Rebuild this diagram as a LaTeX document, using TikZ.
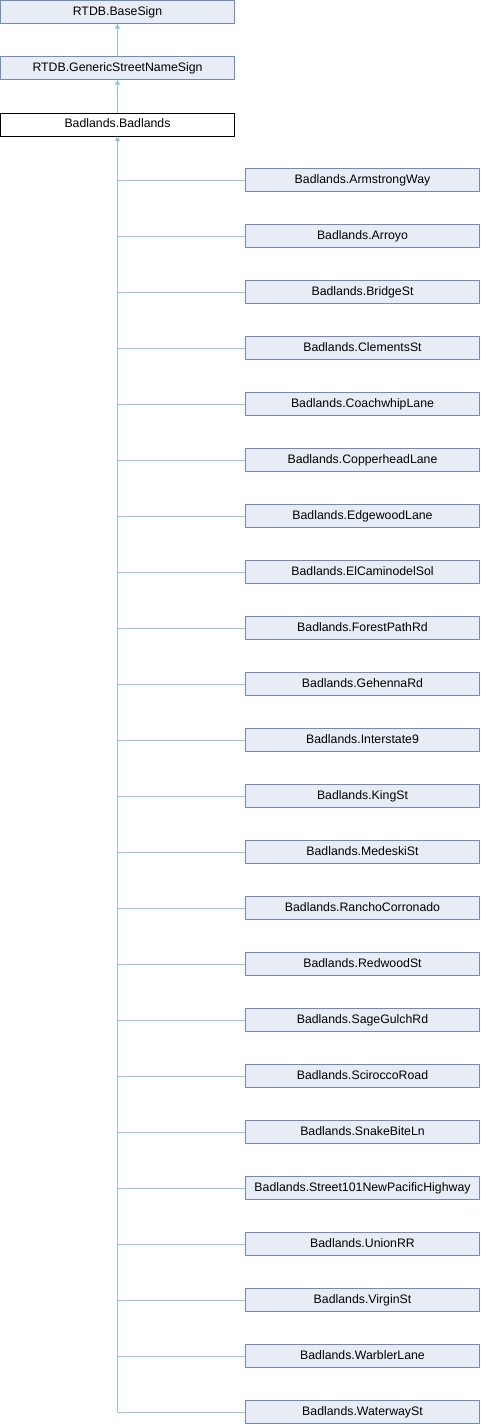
\documentclass[tikz,border=0pt]{standalone}
\usepackage{fontspec}
\setmainfont{Liberation Sans}
\usetikzlibrary{arrows.meta}
\definecolor{edgec}{RGB}{145,198,228}
\definecolor{boxborder}{RGB}{110,138,196}
\definecolor{boxfill}{RGB}{232,236,244}
\tikzset{
  cls/.style={draw=boxborder, fill=boxfill, line width=1pt, minimum width=234pt, minimum height=23pt,
    inner sep=0pt, text height=9pt, text depth=2.5pt, font=\fontsize{12.3pt}{14pt}\selectfont},
  rootcls/.style={cls, draw=black, fill=white},
  edge/.style={draw=edgec, line width=1pt},
  inh/.style={edge, -{Triangle[width=5pt,length=4.5pt]}}
}
\begin{document}
\begin{tikzpicture}[x=1pt,y=-1pt]
\useasboundingbox (0,0) rectangle (480,1424);
\node[cls] (base) at (117.5,12) {RTDB.BaseSign};
\node[cls] (gen) at (117.5,68) {RTDB.GenericStreetNameSign};
\node[rootcls] (bad) at (117.5,124.5) {Badlands.Badlands};
\draw[inh] (gen.north) -- (base.south);
\draw[inh] (bad.north) -- (gen.south);
\foreach \name [count=\i from 0] in {ArmstrongWay,Arroyo,BridgeSt,ClementsSt,CoachwhipLane,CopperheadLane,EdgewoodLane,ElCaminodelSol,ForestPathRd,GehennaRd,Interstate9,KingSt,MedeskiSt,RanchoCorronado,RedwoodSt,SageGulchRd,SciroccoRoad,SnakeBiteLn,Street101NewPacificHighway,UnionRR,VirginSt,WarblerLane,WaterwaySt}{
  \node[cls] (c\i) at (362.5,{180+56*\i}) {Badlands.\name};
  \draw[edge] (c\i.west) -- (c\i.west -| bad.south);
}
\draw[inh] (c22.west -| bad.south) -- (bad.south);
\end{tikzpicture}
\end{document}
